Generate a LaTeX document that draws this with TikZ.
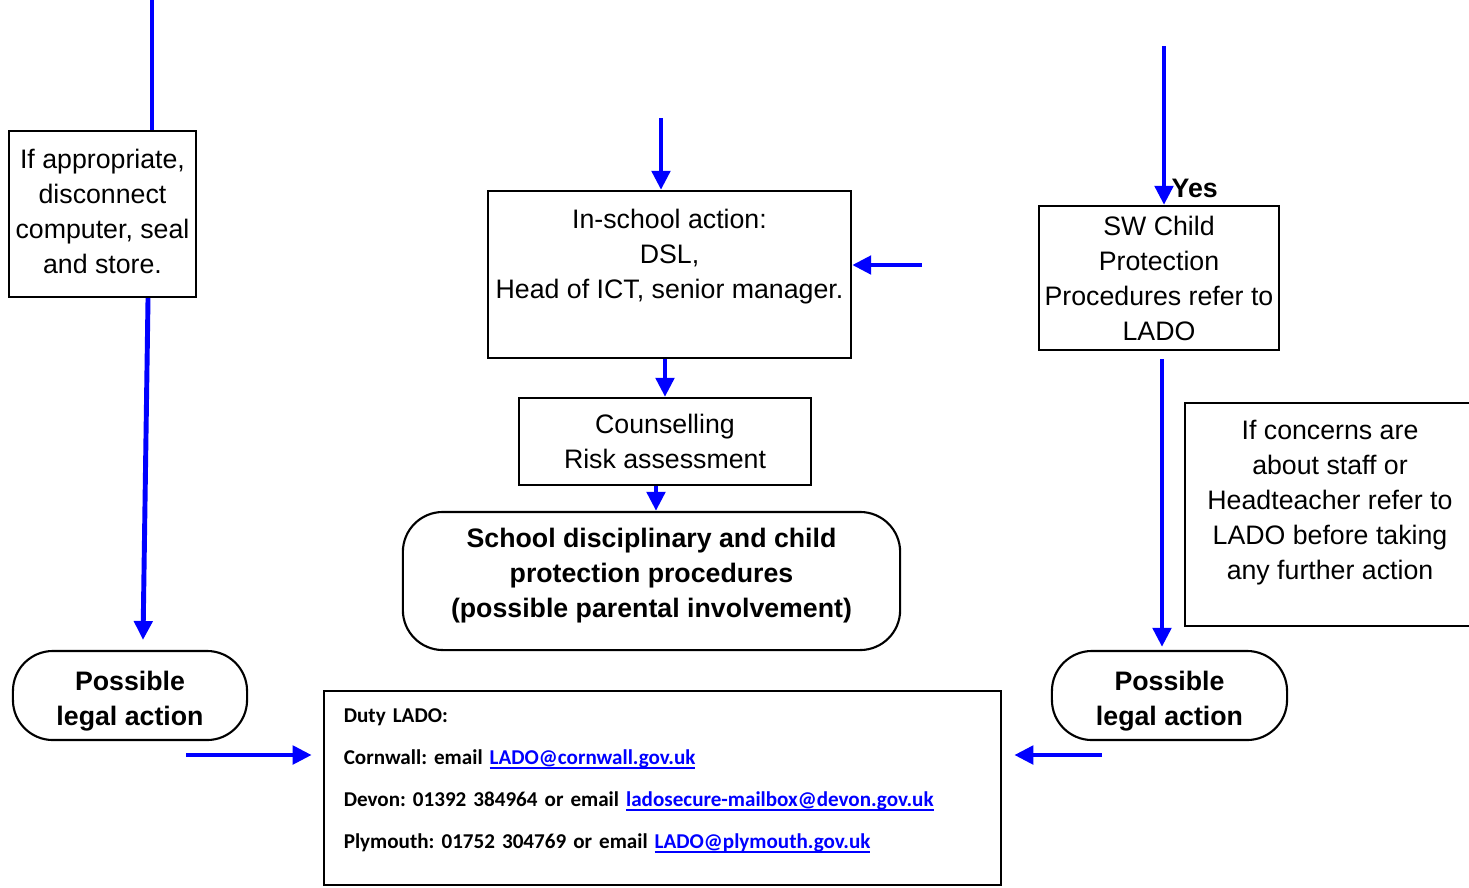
\documentclass[tikz,border=0pt]{standalone}
\usepackage{fontspec}
\setmainfont{Liberation Sans}
\newfontfamily\ladofont{Carlito}
\usetikzlibrary{arrows.meta}
\definecolor{linkblue}{RGB}{0,0,255}
\newcommand{\ladolink}[1]{\textcolor{linkblue}{\setbox0\hbox{#1}\rlap{\rule[-1.1pt]{\wd0}{0.45pt}}\box0}}

\begin{document}
\begin{tikzpicture}[x=0.01cm,y=-0.01cm,inner sep=0pt,
  box/.style={draw,line width=0.6pt,align=center,font=\fontsize{7.6}{9.96}\selectfont},
  pill/.style={box,rounded corners=0.4cm,font=\fontsize{7.6}{9.96}\selectfont\bfseries},
  ladobox/.style={draw,line width=0.6pt,align=left,text width=6.37cm,font=\ladofont\bfseries\fontsize{6.0}{11.95}\selectfont\frenchspacing},
  flow/.style={draw=blue,line width=1.4pt,-{Triangle[length=0.19cm,width=0.18cm]}},
  plain/.style={draw=blue,line width=1.4pt}]

\useasboundingbox (0,0) rectangle (1469,887);

 \coordinate (T1) at (152,0);
 \coordinate (T2) at (661,118);
 \coordinate (T3) at (922,265);
 \coordinate (T4) at (1164,46);
 \coordinate (A2) at (143,640);
 \coordinate (B1) at (186,755);
 \coordinate (B2) at (1102,755);

\node[box,minimum width=1.87cm,minimum height=1.66cm] (approp) at (102.5,214)
  {If appropriate,\\disconnect\\computer, seal\\and store.\rule[-0.06cm]{0pt}{0pt}};
\node[pill,minimum width=2.34cm,minimum height=0.89cm] (legalL) at (130,695.5)
  {\rule{0pt}{0.3cm}Possible\\legal action};
\node[box,minimum width=3.63cm,minimum height=1.67cm] (inschool) at (669.5,274.5)
  {In-school action:\\DSL,\\Head of ICT, senior manager.\rule[-0.42cm]{0pt}{0pt}};
\node[box,minimum width=2.92cm,minimum height=0.87cm] (couns) at (665,441.5)
  {Counselling\\Risk assessment};
\node[pill,minimum width=4.97cm,minimum height=1.38cm] (discip) at (651.5,581)
  {School disciplinary and child\\protection procedures\\(possible parental involvement)\rule[-0.17cm]{0pt}{0pt}};
\node[ladobox,minimum width=6.77cm,minimum height=1.94cm] (lado) at (662.5,788)
  {Duty LADO:\\
   Cornwall: email \ladolink{LADO@cornwall.gov.uk}\\
   Devon: 01392 384964 or email \ladolink{ladosecure-mailbox@devon.gov.uk}\\
   Plymouth: 01752 304769 or email \ladolink{LADO@plymouth.gov.uk}\rule[-0.18cm]{0pt}{0pt}};
\node[box,minimum width=2.40cm,minimum height=1.44cm] (swcp) at (1159,278)
  {SW Child\\Protection\\Procedures refer to\\LADO};
\node[box,minimum width=2.90cm,minimum height=2.23cm] (concern) at (1330,514.5)
  {If concerns are\\about staff or\\Headteacher refer to\\LADO before taking\\any further action\rule[-0.29cm]{0pt}{0pt}};
\node[pill,minimum width=2.35cm,minimum height=0.89cm] (legalR) at (1169.5,695.5)
  {\rule{0pt}{0.3cm}Possible\\legal action};
\node[anchor=west,font=\fontsize{7.6}{9.96}\selectfont\bfseries] (yes) at (1171,188) {Yes};

\draw[plain] (T1) -- (T1 |- approp.north);
\draw[flow] ([xshift=0.455cm]approp.south) -- (A2);
\draw[flow] (B1) -- ([xshift=-0.11cm]lado.west |- B1);
\draw[flow] (T2) -- (inschool.north -| T2);
\draw[flow] (T3) -- (inschool.east |- T3);
\draw[flow] (inschool.south -| couns) -- (couns.north);
\draw[flow] ([xshift=-0.09cm]couns.south) -- ([xshift=-0.09cm]couns.south |- discip.north);
\draw[flow] (T4) -- (swcp.north -| T4);
\draw[flow] ([xshift=0.03cm,yshift=-0.08cm]swcp.south) -- ([xshift=0.03cm,yshift=0.03cm]swcp.south |- legalR.north);
\draw[flow] (B2) -- ([xshift=0.12cm]lado.east |- B2);

\end{tikzpicture}
\end{document}
